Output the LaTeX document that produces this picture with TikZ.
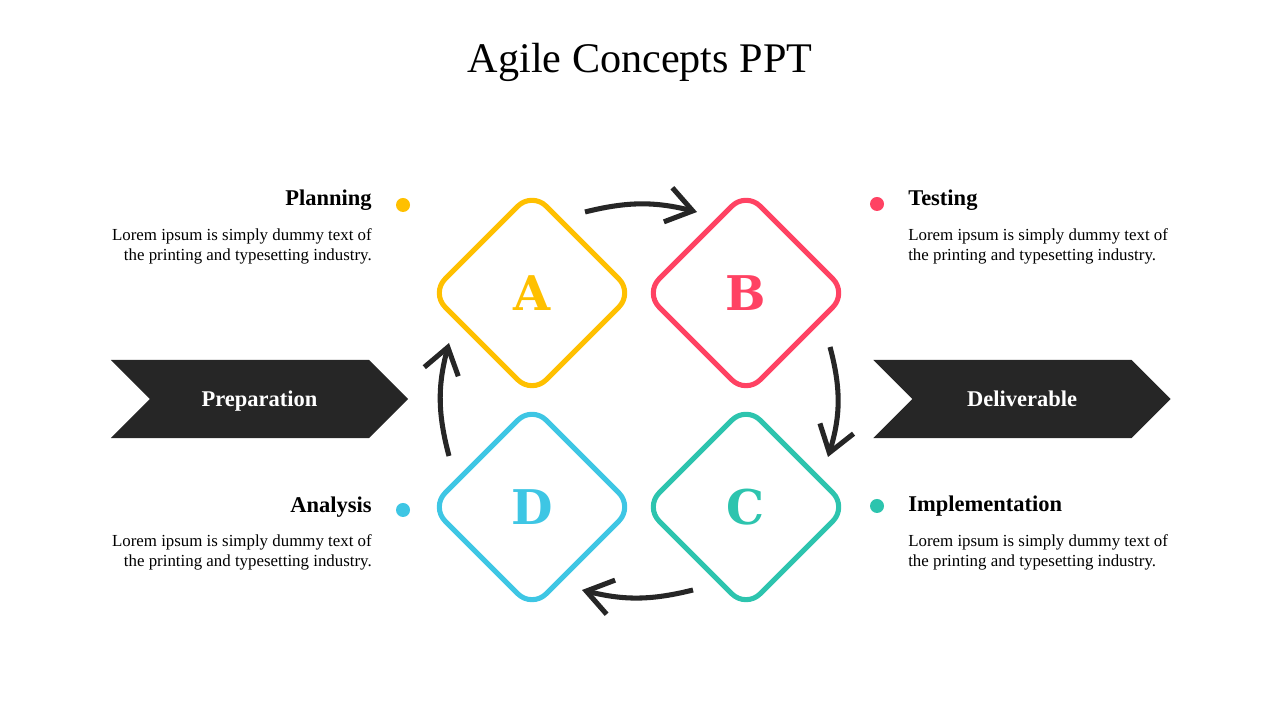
\documentclass[tikz,border=0pt]{standalone}
\usepackage{fontspec}
\setmainfont{Liberation Serif}
\newfontfamily\letterfont{DejaVu Serif}
\usepackage{tikz}
\usetikzlibrary{shapes,arrows.meta,positioning}
\definecolor{cA}{HTML}{FFC000}
\definecolor{cB}{HTML}{FF4263}
\definecolor{cC}{HTML}{2DC4AE}
\definecolor{cD}{HTML}{3EC6E4}
\definecolor{dark}{HTML}{262626}

\begin{document}
\begin{tikzpicture}[
			x = 0.025cm, y = 0.025cm,
			>={Straight Barb[length=18pt,width=25pt,sharp]},
			box/.style = {diamond, aspect=1, draw=#1, text=#1, line width=3.6pt, rounded corners=0.5cm,
				minimum size=5.1cm, inner sep=0pt, font=\letterfont\bfseries\fontsize{34}{36}\selectfont},
			flag/.style = {signal, signal to=east, signal from=west, fill=dark, text=white, text depth=0pt,
				minimum width=7.43cm, minimum height=1.95cm, font=\bfseries\fontsize{16}{19}\selectfont},
			dot/.style = {circle, fill=#1, inner sep=0pt, minimum size=0.35cm},
			head/.style = {font=\bfseries\fontsize{16}{19}\selectfont, inner sep=0pt},
			body/.style = {font=\fontsize{12}{14.2}\selectfont, inner sep=0pt},
			arr/.style = {->, line width=3.6pt, dark}
		]

		\useasboundingbox (0,0) rectangle (1280,720);

		\node[font=\fontsize{30}{36}\selectfont, anchor=base] (title) at (640,647) {Agile Concepts PPT};

		\node[box=cA] (A) at (532,427) {A};
		\node[box=cB] (B) at (746,427) {B};
		\node[box=cC] (C) at (746,213) {C};
		\node[box=cD] (D) at (532,213) {D};

		\draw[arr] ([shift={(53,81)}]A.center) to[bend left=14] ([shift={(-49,81)}]B.center);
		\draw[arr] ([shift={(84,-54)}]B.center) to[bend left=16] ([shift={(82,50)}]C.center);
		\draw[arr] ([shift={(-53,-83)}]C.center) to[bend left=14] ([shift={(50,-83)}]D.center);
		\draw[arr] ([shift={(-83,51)}]D.center) to[bend left=15] ([shift={(-83,-50)}]A.center);

		\node[flag] (prep) at (259.5,321) {Preparation};
		\node[flag] (deliv) at (1022,321) {Deliverable};

		\node[dot=cA] (plandot) at (403,515) {};
		\node[head, anchor=base east] (plan) at (372,514) {Planning};
		\node[body, anchor=north east, align=right] (plantxt) at (372,492) {Lorem ipsum is simply dummy text of\\the printing and typesetting industry.};

		\node[dot=cB] (testdot) at (877,516) {};
		\node[head, anchor=base west] (test) at (908,514) {Testing};
		\node[body, anchor=north west, align=left] (testtxt) at (908,492) {Lorem ipsum is simply dummy text of\\the printing and typesetting industry.};

		\node[dot=cD] (anadot) at (403,210) {};
		\node[head, anchor=base east] (ana) at (372,207) {Analysis};
		\node[body, anchor=north east, align=right] (anatxt) at (372,186) {Lorem ipsum is simply dummy text of\\the printing and typesetting industry.};

		\node[dot=cC] (impdot) at (877,214) {};
		\node[head, anchor=base west] (imp) at (908,208) {Implementation};
		\node[body, anchor=north west, align=left] (imptxt) at (908,186) {Lorem ipsum is simply dummy text of\\the printing and typesetting industry.};

\end{tikzpicture}
\end{document}
